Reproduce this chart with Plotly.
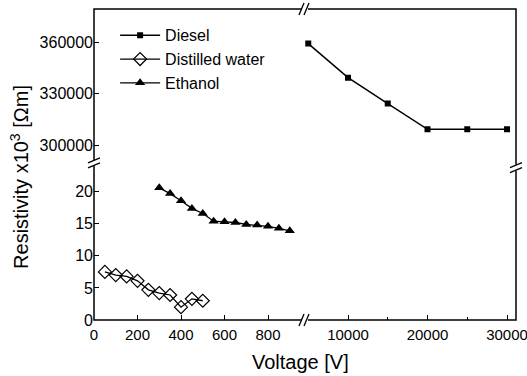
import plotly.graph_objects as go

# Data
diesel_v = [5000, 10000, 15000, 20000, 25000, 30000]
diesel_r = [359500, 339500, 324300, 309200, 309200, 309200]

water_v = [50, 100, 150, 200, 250, 300, 350, 400, 450, 500]
water_r = [7.5, 7.0, 6.8, 6.1, 4.7, 4.2, 3.9, 2.0, 3.3, 3.0]

ethanol_v = [300, 350, 400, 450, 500, 550, 600, 650, 700, 750, 800, 850, 900]
ethanol_r = [20.6, 19.7, 18.6, 17.4, 16.6, 15.4, 15.3, 15.2, 14.9, 14.8, 14.6, 14.3, 13.9]

x_ticks_left = [0, 200, 400, 600, 800]
x_ticks_right = [10000, 20000, 30000]
y_ticks_low = [0, 5, 10, 15, 20]
y_ticks_high = [300000, 330000, 360000]

FONT = "Liberation Sans, Arial, Helvetica, sans-serif"

fig = go.Figure()
fig.add_trace(go.Scatter(x=diesel_v, y=diesel_r, name="Diesel", mode="lines+markers",
                         xaxis="x2", yaxis="y2",
                         line=dict(color="black", width=1.5),
                         marker=dict(symbol="square", size=6, color="black")))
fig.add_trace(go.Scatter(x=water_v, y=water_r, name="Distilled water", mode="lines+markers",
                         xaxis="x", yaxis="y",
                         line=dict(color="black", width=1.3),
                         marker=dict(symbol="diamond-open", size=10, color="black",
                                     line=dict(width=1.2, color="black"))))
fig.add_trace(go.Scatter(x=ethanol_v, y=ethanol_r, name="Ethanol", mode="lines+markers",
                         xaxis="x", yaxis="y",
                         line=dict(color="black", width=1.3),
                         marker=dict(symbol="triangle-up", size=9, color="black")))

axis_common = dict(showgrid=False, zeroline=False, showline=False, ticks="inside",
                   ticklen=5, tickwidth=1.2, tickcolor="black", ticklabeloverflow="allow",
                   automargin=False)
xfont = dict(family=FONT, size=15, color="black")
yfont = dict(family=FONT, size=16, color="black")

fig.update_layout(
    width=527, height=376,
    margin=dict(l=94, r=11, t=9, b=56, autoexpand=False),
    paper_bgcolor="white", plot_bgcolor="white",
    font=dict(family=FONT, color="black"),
    xaxis=dict(domain=[0, 0.5], range=[0, 970], tickmode="array", tickvals=x_ticks_left,
               ticktext=[str(v) for v in x_ticks_left], ticklabelstandoff=4,
               tickfont=xfont, anchor="y", **axis_common),
    xaxis2=dict(domain=[0.5, 1], range=[4590, 31130], tickmode="array", tickvals=x_ticks_right,
                ticktext=[str(v) for v in x_ticks_right], ticklabelstandoff=4,
                tickfont=xfont, anchor="y",
                minor=dict(tickmode="array", tickvals=[15000, 25000], ticks="inside",
                           ticklen=3, tickcolor="black"),
                **axis_common),
    yaxis=dict(domain=[0, 0.5], range=[0, 24.24], tickmode="array", tickvals=y_ticks_low,
               ticktext=[str(v) for v in y_ticks_low],
               tickfont=yfont, anchor="x", **axis_common),
    yaxis2=dict(domain=[0.5, 1], range=[288560, 379770], tickmode="array", tickvals=y_ticks_high,
                ticktext=[str(v) for v in y_ticks_high],
                tickfont=yfont, anchor="x", **axis_common),
    showlegend=True,
    legend=dict(x=0.05, y=0.97, xanchor="left", yanchor="top",
                bgcolor="rgba(0,0,0,0)", font=dict(family=FONT, size=16, color="black"),
                itemwidth=40, tracegroupgap=0),
)

# Frame
fig.add_shape(type="rect", xref="paper", yref="paper", x0=0, x1=1, y0=0, y1=1,
              line=dict(color="black", width=1.5), layer="above")

# Break marks
def add_break(xp, yp, horizontal):
    if horizontal:
        fig.add_shape(type="line", xref="paper", yref="paper", xsizemode="pixel",
                      xanchor=xp, x0=-3, x1=3, y0=yp, y1=yp,
                      line=dict(color="white", width=4), layer="above")
        for dx in (-3, 2):
            fig.add_shape(type="line", xref="paper", yref="paper",
                          xsizemode="pixel", ysizemode="pixel", xanchor=xp, yanchor=yp,
                          x0=dx - 3, x1=dx + 2, y0=-6, y1=6,
                          line=dict(color="black", width=1.3), layer="above")
    else:
        fig.add_shape(type="line", xref="paper", yref="paper", ysizemode="pixel",
                      yanchor=yp, y0=-3, y1=3, x0=xp, x1=xp,
                      line=dict(color="white", width=4), layer="above")
        for dy in (-3, 2):
            fig.add_shape(type="line", xref="paper", yref="paper",
                          xsizemode="pixel", ysizemode="pixel", xanchor=xp, yanchor=yp,
                          x0=-6, x1=6, y0=dy - 2, y1=dy + 3,
                          line=dict(color="black", width=1.3), layer="above")

add_break(0.5, 0, True)
add_break(0.5, 1, True)
add_break(0, 0.505, False)
add_break(1, 0.49, False)

# Axis titles
fig.add_annotation(text="Voltage [V]", xref="paper", yref="paper", x=0.49, y=0,
                   yshift=-42, showarrow=False, xanchor="center", yanchor="middle",
                   font=dict(family=FONT, size=20, color="black"))
fig.add_annotation(text="Resistivity x10<sup>3</sup> [Ωm]", xref="paper", yref="paper",
                   x=0, xshift=-74, y=0.46, textangle=-90, showarrow=False,
                   xanchor="center", yanchor="middle",
                   font=dict(family=FONT, size=20, color="black"))

fig.write_html("out.html")
